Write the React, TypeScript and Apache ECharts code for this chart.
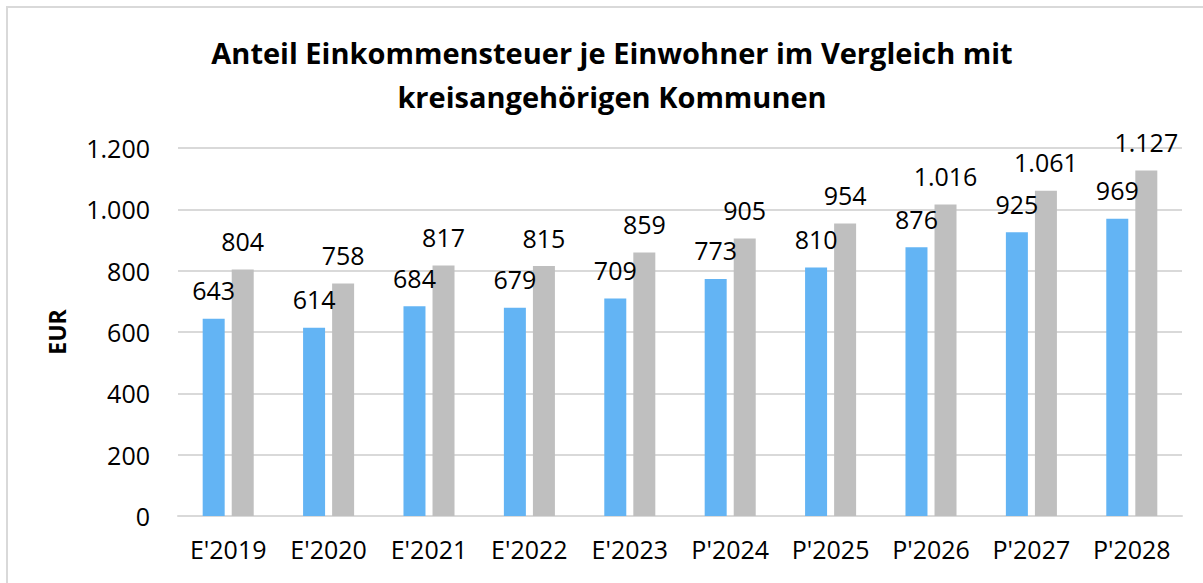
import React, { useEffect, useRef } from "react";
import * as echarts from "echarts";

const categories = ["E'2019", "E'2020", "E'2021", "E'2022", "E'2023", "P'2024", "P'2025", "P'2026", "P'2027", "P'2028"];
const ownValues = [643, 614, 684, 679, 709, 773, 810, 876, 925, 969];
const districtValues = [804, 758, 817, 815, 859, 905, 954, 1016, 1061, 1127];
const titleText = "Anteil Einkommensteuer je Einwohner im Vergleich mit\nkreisangehörigen Kommunen";
const yAxisName = "EUR";

const fmt = (v: number) => {
  const s = String(Math.round(v));
  return s.replace(/\B(?=(\d{3})+(?!\d))/g, ".");
};

const FONT = "'Open Sans', sans-serif";

export default function App() {
  const ref = useRef<HTMLDivElement>(null);
  useEffect(() => {
    if (!ref.current) return;
    const chart = echarts.init(ref.current, null, { renderer: "svg" });
    const labelCfg = {
      show: true,
      position: "top" as const,
      distance: 16,
      fontFamily: FONT,
      fontSize: 25,
      color: "#000",
      formatter: (p: any) => fmt(p.value),
    };
    chart.setOption({
      animation: false,
      backgroundColor: "#fff",
      title: {
        text: titleText,
        left: 607,
        textAlign: "center",
        top: 25,
        textStyle: { fontFamily: FONT, fontSize: 29, fontWeight: "bold", color: "#000", lineHeight: 44 },
      },
      graphic: [
        {
          type: "rect",
          shape: { x: 7, y: 7, width: 1400, height: 800 },
          style: { fill: "none", stroke: "#d9d9d9", lineWidth: 2 },
          silent: true,
        },
      ],
      grid: { left: 178, right: 21, top: 148, bottom: 67 },
      xAxis: {
        type: "category",
        data: categories,
        axisLine: { show: true, lineStyle: { color: "#d9d9d9", width: 2 } },
        axisTick: { show: false },
        axisLabel: { fontFamily: FONT, fontSize: 25, color: "#000", margin: 20, interval: 0 },
      },
      yAxis: {
        type: "value",
        min: 0,
        max: 1200,
        interval: 200,
        name: yAxisName,
        nameLocation: "middle",
        nameGap: 110,
        nameTextStyle: { fontFamily: FONT, fontSize: 23, fontWeight: "bold", color: "#000" },
        axisLine: { show: false },
        axisTick: { show: false },
        axisLabel: { fontFamily: FONT, fontSize: 25, color: "#000", margin: 28, formatter: fmt },
        splitLine: { lineStyle: { color: "#d9d9d9", width: 2 } },
      },
      series: [
        {
          type: "bar",
          data: ownValues,
          barWidth: 22,
          barGap: "32%",
          itemStyle: { color: "#63b4f4" },
          label: labelCfg,
        },
        {
          type: "bar",
          data: districtValues,
          barWidth: 22,
          itemStyle: { color: "#bfbfbf" },
          label: labelCfg,
        },
      ],
    });
    return () => chart.dispose();
  }, []);
  return <div ref={ref} style={{ position: "absolute", left: 0, top: 0, width: 1203, height: 583 }} />;
}
